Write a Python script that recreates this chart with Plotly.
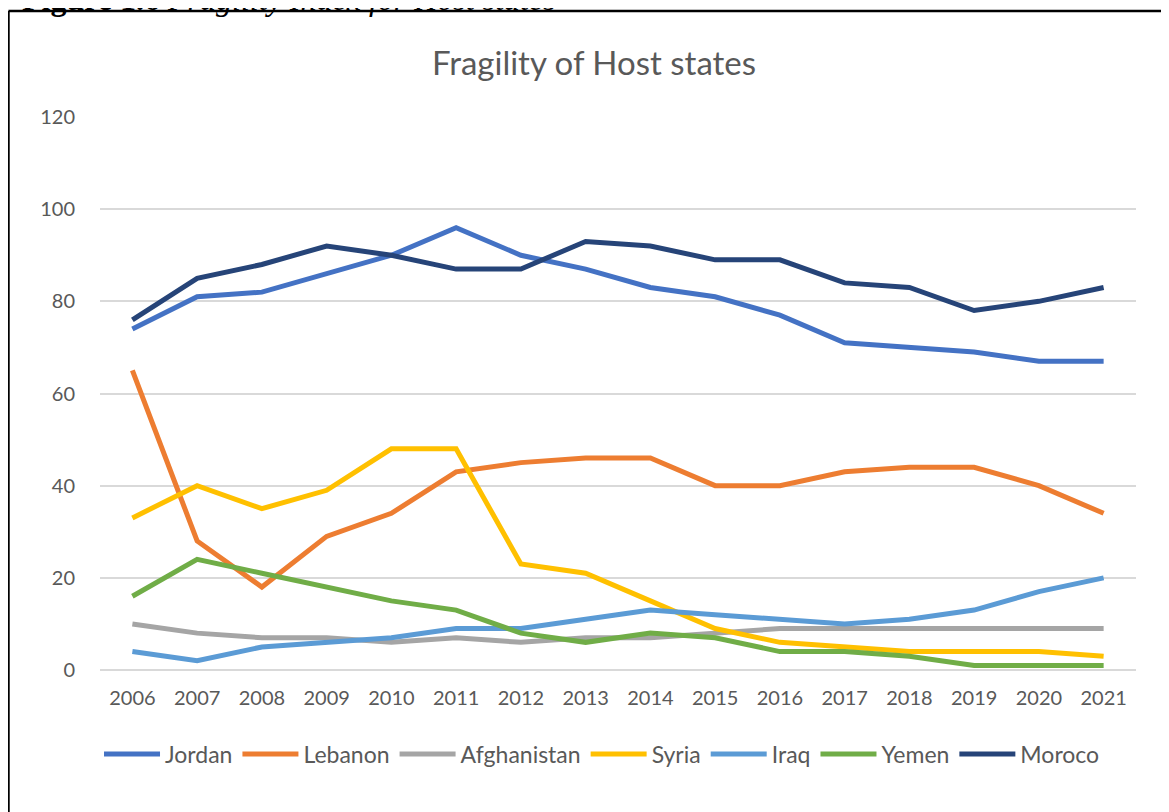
import plotly.graph_objects as go

years = [str(y) for y in range(2006, 2022)]
jordan = [74, 81, 82, 86, 90, 96, 90, 87, 83, 81, 77, 71, 70, 69, 67, 67]
lebanon = [65, 28, 18, 29, 34, 43, 45, 46, 46, 40, 40, 43, 44, 44, 40, 34]
afghanistan = [10, 8, 7, 7, 6, 7, 6, 7, 7, 8, 9, 9, 9, 9, 9, 9]
syria = [33, 40, 35, 39, 48, 48, 23, 21, 15, 9, 6, 5, 4, 4, 4, 3]
iraq = [4, 2, 5, 6, 7, 9, 9, 11, 13, 12, 11, 10, 11, 13, 17, 20]
yemen = [16, 24, 21, 18, 15, 13, 8, 6, 8, 7, 4, 4, 3, 1, 1, 1]
moroco = [76, 85, 88, 92, 90, 87, 87, 93, 92, 89, 89, 84, 83, 78, 80, 83]

series = [
    ("Jordan", jordan, "#4472C4"),
    ("Lebanon", lebanon, "#ED7D31"),
    ("Afghanistan", afghanistan, "#A5A5A5"),
    ("Syria", syria, "#FFC000"),
    ("Iraq", iraq, "#5B9BD5"),
    ("Yemen", yemen, "#70AD47"),
    ("Moroco", moroco, "#264478"),
]

OFF = 8  # page body margin
W, H = 1169 - OFF, 812 - OFF
# plot area in screen pixels: x 99.6..1136.4, y 117..670
L, T = 99.6 - OFF, 117 - OFF
R, B = W - (1136.4 - OFF), H - (670 - OFF)
pw, ph = W - L - R, H - T - B

def px_x(xs):
    return (xs - OFF - L) / pw

def px_y(ys):
    return (H - B - (ys - OFF)) / ph

fig = go.Figure()
for name, vals, col in series:
    fig.add_trace(go.Scatter(x=years, y=vals, name=name, mode="lines",
                             line=dict(color=col, width=5)))

fig.update_layout(
    width=W, height=H,
    margin=dict(l=L, r=R, t=T, b=B, autoexpand=False),
    paper_bgcolor="white", plot_bgcolor="white",
    font=dict(family="Lato, Carlito, sans-serif", color="#595959"),
    title=dict(text="Fragility of Host states", xref="paper", x=px_x(594), xanchor="center",
               yref="container", y=1 - (63 - OFF) / H, yanchor="middle",
               font=dict(size=33, color="#595959")),
    showlegend=True,
    legend=dict(orientation="h", x=px_x(602), xanchor="center", y=px_y(754), yanchor="middle",
                font=dict(size=23, color="#595959"), itemwidth=56,
                bgcolor="rgba(0,0,0,0)"),
    xaxis=dict(type="category", range=[-0.5, len(years) - 0.5], showgrid=False,
               showline=False, ticks="", zeroline=False,
               tickfont=dict(size=20, color="#595959"), ticklabelstandoff=14),
    yaxis=dict(range=[0, 120], dtick=20, showgrid=True, gridcolor="#D9D9D9", gridwidth=1.5,
               zeroline=True, zerolinecolor="#D9D9D9", zerolinewidth=1.5,
               ticks="", tickfont=dict(size=20, color="#595959"), ticklabelstandoff=24),
)

# outer frame (left and top edges)
fig.add_shape(type="line", xref="paper", yref="paper",
              x0=px_x(8), x1=px_x(1185), y0=px_y(11), y1=px_y(11),
              line=dict(color="black", width=2.5))
fig.add_shape(type="line", xref="paper", yref="paper",
              x0=px_x(8), x1=px_x(8), y0=px_y(11), y1=px_y(830),
              line=dict(color="black", width=2.5))

# clipped figure caption
fig.add_annotation(xref="paper", yref="paper", x=px_x(20), y=px_y(-1),
                   xanchor="left", yanchor="middle", showarrow=False,
                   text="<b>Figure 1.6</b> <i>Fragility Index for Host states</i>",
                   font=dict(family="Liberation Serif, Times New Roman, serif", size=32, color="black"))

fig.write_html("out.html")
